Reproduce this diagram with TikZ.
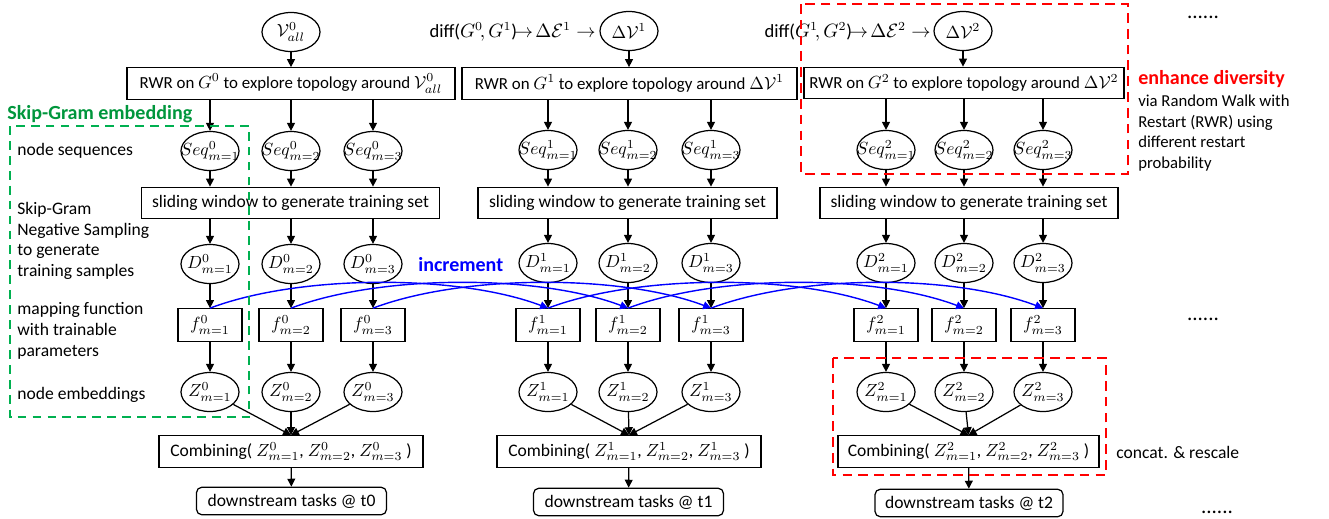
\documentclass[tikz,border=0pt]{standalone}
\usepackage{amsmath}
\usepackage{fontspec}
\setmainfont{Carlito}
\usetikzlibrary{arrows.meta,shapes.geometric}

\definecolor{sggreen}{RGB}{0,176,80}
\definecolor{sgtext}{RGB}{0,150,60}
\definecolor{incblue}{RGB}{0,0,255}
\newcommand{\inell}[1]{\makebox[0pt]{$#1$}}

\begin{document}
\begin{tikzpicture}[x=0.02cm, y=-0.02cm,
  font=\fontsize{10}{11.8}\selectfont,
  ell/.style={ellipse, draw, line width=0.7pt, inner sep=0pt, minimum width=1.16cm, minimum height=0.78cm},
  box/.style={rectangle, draw, line width=0.7pt, inner xsep=2pt, inner ysep=1pt, minimum height=0.63cm},
  rwrbox/.style={box, font=\fontsize{9.6}{11}\selectfont},
  fbox/.style={box, minimum width=1.28cm, minimum height=0.65cm},
  task/.style={box, rounded corners=3pt, minimum height=0.55cm, minimum width=3.8cm},
  arr/.style={draw, line width=0.7pt, -{Triangle[length=4.5pt,width=4.5pt]}},
  incr/.style={draw=incblue, line width=0.8pt, -{Triangle[length=4.5pt,width=4.5pt]}},
  lbl/.style={anchor=west, align=left, inner sep=0pt},
  hdr/.style={anchor=west, inner sep=0pt, font=\fontsize{11.4}{13}\selectfont\bfseries},
  dots/.style={font=\fontsize{12}{14}\selectfont, inner sep=0pt},
  difftxt/.style={anchor=east, inner sep=0pt, font=\fontsize{10.6}{13}\selectfont},
  reddash/.style={draw=red, line width=1.4pt, dash pattern=on 5.5pt off 3.5pt},
  greendash/.style={draw=sggreen, line width=1.1pt, dash pattern=on 5pt off 3.5pt}
]
\useasboundingbox (0,0) rectangle (1329,518);

% step t0
\node[ell] (top0) at (291,32) {\inell{\mathcal{V}^{0}_{all}}};
\node[rwrbox, minimum width=6.56cm] (rwr0) at (291,83.5) {RWR on $G^{0}$ to explore topology around $\mathcal{V}^{0}_{all}$};
\node[ell] (s01) at (210,151) {\inell{Seq^{0}_{m=1}}};
\node[ell] (s02) at (291,151) {\inell{Seq^{0}_{m=2}}};
\node[ell] (s03) at (373,151) {\inell{Seq^{0}_{m=3}}};
\node[box, minimum width=5.96cm] (sw0) at (290.5,203) {sliding window to generate training set};
\node[ell] (d01) at (210,264) {\inell{D^{0}_{m=1}}};
\node[ell] (d02) at (291,264) {\inell{D^{0}_{m=2}}};
\node[ell] (d03) at (373,264) {\inell{D^{0}_{m=3}}};
\node[fbox] (f01) at (210,325) {$f^{0}_{m=1}$};
\node[fbox] (f02) at (291,325) {$f^{0}_{m=2}$};
\node[fbox] (f03) at (373,325) {$f^{0}_{m=3}$};
\node[ell] (z01) at (210,392) {\inell{Z^{0}_{m=1}}};
\node[ell] (z02) at (291,392) {\inell{Z^{0}_{m=2}}};
\node[ell] (z03) at (373,392) {\inell{Z^{0}_{m=3}}};
\node[box, minimum width=5.28cm] (c0) at (291,451.5) {Combining( $Z^{0}_{m=1}$, $Z^{0}_{m=2}$, $Z^{0}_{m=3}$ )};
\node[task] (t0) at (291.5,501) {downstream tasks @ t0};

% step t1
\node[ell] (top1) at (629,31) {\inell{\Delta\mathcal{V}^{1}}};
\node[difftxt] (diff1) at (596,32) {diff($G^{0}\!,G^{1}$)$\!\rightarrow\!\Delta\mathcal{E}^{1}\rightarrow$};
\node[rwrbox, minimum width=6.7cm] (rwr1) at (629.5,83.5) {RWR on $G^{1}$ to explore topology around $\Delta\mathcal{V}^{1}$};
\node[ell] (s11) at (548,150) {\inell{Seq^{1}_{m=1}}};
\node[ell] (s12) at (628,150) {\inell{Seq^{1}_{m=2}}};
\node[ell] (s13) at (711,150) {\inell{Seq^{1}_{m=3}}};
\node[box, minimum width=5.98cm] (sw1) at (627.5,203) {sliding window to generate training set};
\node[ell] (d11) at (548,263) {\inell{D^{1}_{m=1}}};
\node[ell] (d12) at (628,263) {\inell{D^{1}_{m=2}}};
\node[ell] (d13) at (711,263) {\inell{D^{1}_{m=3}}};
\node[fbox] (f11) at (548,325) {$f^{1}_{m=1}$};
\node[fbox] (f12) at (628,325) {$f^{1}_{m=2}$};
\node[fbox] (f13) at (711,325) {$f^{1}_{m=3}$};
\node[ell] (z11) at (548,392) {\inell{Z^{1}_{m=1}}};
\node[ell] (z12) at (628,392) {\inell{Z^{1}_{m=2}}};
\node[ell] (z13) at (711,392) {\inell{Z^{1}_{m=3}}};
\node[box, minimum width=5.28cm] (c1) at (629,451.5) {Combining( $Z^{1}_{m=1}$, $Z^{1}_{m=2}$, $Z^{1}_{m=3}$ )};
\node[task] (t1) at (628.5,502) {downstream tasks @ t1};

% step t2
\node[ell] (top2) at (963,31) {\inell{\Delta\mathcal{V}^{2}}};
\node[difftxt] (diff2) at (931,32) {diff($G^{1}\!,G^{2}$)$\!\rightarrow\!\Delta\mathcal{E}^{2}\rightarrow$};
\node[rwrbox, minimum width=6.4cm] (rwr2) at (964,83) {RWR on $G^{2}$ to explore topology around $\Delta\mathcal{V}^{2}$};
\node[ell] (s21) at (886,150) {\inell{Seq^{2}_{m=1}}};
\node[ell] (s22) at (964,150) {\inell{Seq^{2}_{m=2}}};
\node[ell] (s23) at (1043,150) {\inell{Seq^{2}_{m=3}}};
\node[box, minimum width=5.96cm] (sw2) at (969,203) {sliding window to generate training set};
\node[ell] (d21) at (886,263) {\inell{D^{2}_{m=1}}};
\node[ell] (d22) at (964,263) {\inell{D^{2}_{m=2}}};
\node[ell] (d23) at (1043,263) {\inell{D^{2}_{m=3}}};
\node[fbox] (f21) at (886,325) {$f^{2}_{m=1}$};
\node[fbox] (f22) at (964,325) {$f^{2}_{m=2}$};
\node[fbox] (f23) at (1043,325) {$f^{2}_{m=3}$};
\node[ell] (z21) at (886,392) {\inell{Z^{2}_{m=1}}};
\node[ell] (z22) at (964,392) {\inell{Z^{2}_{m=2}}};
\node[ell] (z23) at (1043,392) {\inell{Z^{2}_{m=3}}};
\node[box, minimum width=5.22cm] (c2) at (968.5,451.5) {Combining( $Z^{2}_{m=1}$, $Z^{2}_{m=2}$, $Z^{2}_{m=3}$ )};
\node[task, minimum width=3.76cm] (t2) at (969,503) {downstream tasks @ t2};

% black arrows
\foreach \t in {0,1,2}{
  \draw[arr] (top\t) -- (rwr\t.north -| top\t);
  \foreach \i in {1,2,3}{
    \draw[arr] (rwr\t.south -| s\t\i) -- (s\t\i);
    \draw[arr] (s\t\i) -- (sw\t.north -| s\t\i);
    \draw[arr] (sw\t.south -| d\t\i) -- (d\t\i);
    \draw[arr] (d\t\i) -- (f\t\i);
    \draw[arr] (f\t\i) -- (z\t\i);
    \draw[arr] (z\t\i) -- (c\t.north);
  }
  \draw[arr] (c\t) -- (t\t);
}

% increment
\foreach \i in {1,2,3}{
  \draw[incr] (f0\i.north) .. controls +(90,-34) and +(-90,-34) .. (f1\i.north);
  \draw[incr] (f1\i.north) .. controls +(90,-34) and +(-90,-34) .. (f2\i.north);
}
\node[hdr, text=incblue] (inc) at (418,265) {increment};

% Skip-Gram part
\draw[greendash] (10,126) rectangle (249,417);
\node[hdr, text=sgtext] (sghdr) at (7,114) {Skip-Gram embedding};
\node[lbl] (lseq) at (17,151) {node sequences};
\node[lbl] (lneg) at (17,241) {Skip-Gram\\Negative Sampling\\to generate\\training samples};
\node[lbl] (lmap) at (17,331) {mapping function\\with trainable\\parameters};
\node[lbl] (lemb) at (17,395) {node embeddings};

% diversity part
\draw[reddash] (801,4) rectangle (1128,174);
\draw[reddash] (833,358) rectangle (1106,475);
\node[hdr, text=red] (enh) at (1138,79) {enhance diversity};
\node[lbl, font=\fontsize{9.5}{11.6}\selectfont] (via) at (1138,133) {via Random Walk with\\Restart (RWR) using\\different restart\\probability};
\node[lbl] (concat) at (1116,452) {concat. \& rescale};

\node[dots] (dtop) at (1203,17) {......};
\node[dots] (dmid) at (1203,319) {......};
\node[dots] (dbot) at (1217,512) {......};

\end{tikzpicture}
\end{document}
